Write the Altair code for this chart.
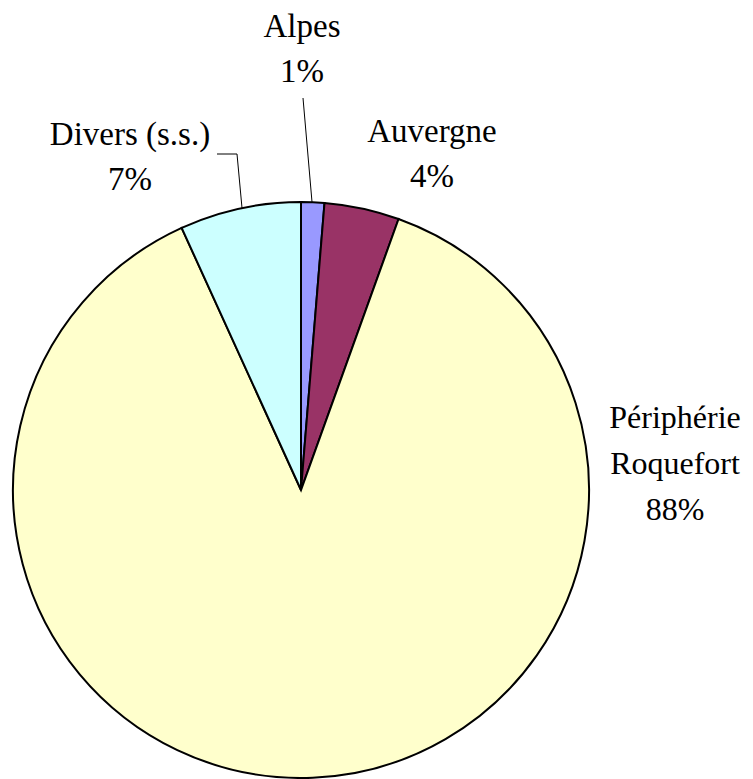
import altair as alt
import pandas as pd

# ---- data ----
categories = ["Alpes", "Auvergne", "Périphérie Roquefort", "Divers (s.s.)"]
values = [1.3, 4.2, 87.7, 6.8]
label_lines = [["Alpes"], ["Auvergne"], ["Périphérie", "Roquefort"], ["Divers (s.s.)"]]
colors = ["#9999FF", "#993366", "#FFFFCC", "#CCFFFF"]

# ---- layout (chart coordinates) ----
W, H = 737, 771
CX, CY, R = 293, 482, 288
FONT = "Liberation Serif"
LH = 45
label_style = {
    "Alpes": (294, 29, 33),
    "Auvergne": (424, 134, 33),
    "Périphérie Roquefort": (667, 420, 32),
    "Divers (s.s.)": (122, 137, 33),
}
leaders = [
    [(295, 90), (304, 194)],
    [(209, 146), (229, 146), (234, 200)],
]

total = sum(values)
df = pd.DataFrame({
    "cat": categories,
    "val": values,
    "order": list(range(len(categories))),
})

pie = alt.Chart(df).mark_arc(
    outerRadius=R, stroke="black", strokeWidth=2
).encode(
    theta=alt.Theta("val:Q", stack=True),
    order=alt.Order("order:Q"),
    color=alt.Color("cat:N", scale=alt.Scale(domain=categories, range=colors), legend=None),
    x=alt.value(CX),
    y=alt.value(CY),
)

layers = [pie]

for cat, val, lines in zip(categories, values, label_lines):
    txt = "\n".join(lines + [f"{round(val / total * 100):.0f}%"])
    lx, ly, fs = label_style[cat]
    t = alt.Chart(pd.DataFrame({"t": [txt]})).mark_text(
        font=FONT, fontSize=fs, color="black", align="center",
        baseline="alphabetic", lineBreak="\n", lineHeight=LH + 1 if fs == 32 else LH,
    ).encode(text="t:N", x=alt.value(lx), y=alt.value(ly))
    layers.append(t)

for seg in leaders:
    for (x1, y1), (x2, y2) in zip(seg[:-1], seg[1:]):
        r = alt.Chart(pd.DataFrame({"a": [0]})).mark_rule(
            color="black", strokeWidth=1
        ).encode(x=alt.value(x1), y=alt.value(y1), x2=alt.value(x2), y2=alt.value(y2))
        layers.append(r)

chart = alt.layer(*layers).properties(
    width=W, height=H, padding=0, autosize=alt.AutoSizeParams(type="none"),
    background="white",
).configure_view(stroke=None)

chart.save("out.html", embed_options={"renderer": "svg", "actions": False})
